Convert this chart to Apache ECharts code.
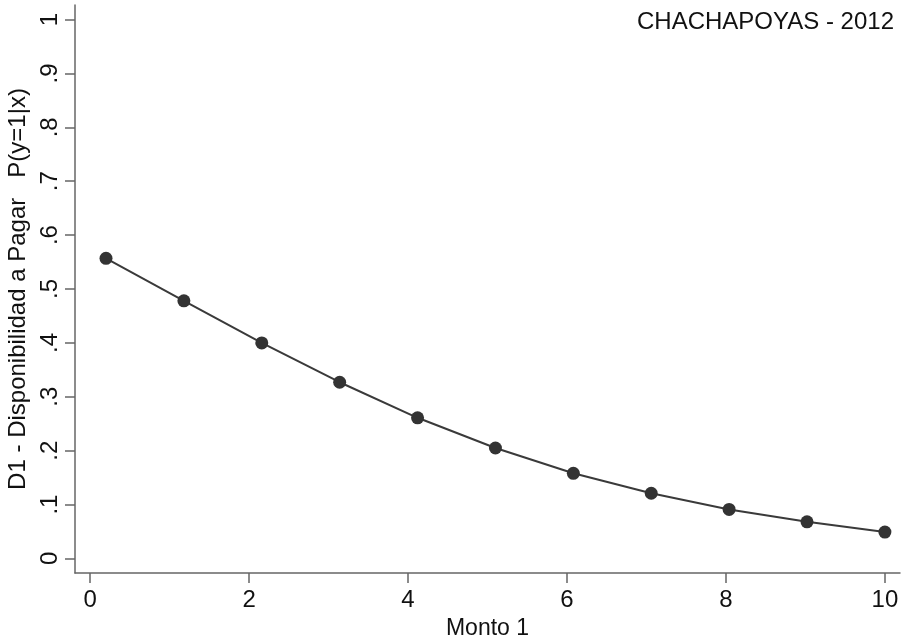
<!DOCTYPE html>
<html>
<head>
<meta charset="utf-8">
<script src="https://cdn.jsdelivr.net/npm/echarts@6/dist/echarts.min.js"></script>
<style>
  html, body { margin: 0; padding: 0; background: #fff; }
  #chart { width: 906px; height: 640px; }
</style>
</head>
<body>
<div id="chart"></div>
<script>
// Monto 1 (x) y P(y=1|x)
const monto = [0.2, 1.18, 2.16, 3.14, 4.12, 5.1, 6.08, 7.06, 8.04, 9.02, 10];
const prob = [0.557, 0.478, 0.4, 0.327, 0.261, 0.205, 0.158, 0.121, 0.091, 0.068, 0.049];
const xTicks = [0, 2, 4, 6, 8, 10];
const yTicks = [0, 0.1, 0.2, 0.3, 0.4, 0.5, 0.6, 0.7, 0.8, 0.9, 1];
const titleText = "CHACHAPOYAS - 2012";

const font = "Liberation Sans, Arial, sans-serif";
const axisColor = "#666";

const chart = echarts.init(document.getElementById("chart"));
chart.setOption({
  backgroundColor: "#fff",
  animation: false,
  title: {
    text: titleText,
    right: 7,
    top: 5,
    textStyle: { fontFamily: font, fontSize: 24, fontWeight: "normal", color: "#111" },
  },
  grid: { left: 75, right: 6, top: 5, bottom: 67, outerBoundsMode: "none" },
  xAxis: {
    type: "value",
    min: -0.19,
    max: 10.19,
    interval: 2,
    name: "Monto 1",
    nameLocation: "middle",
    nameGap: 38,
    nameTextStyle: { fontFamily: font, fontSize: 23, color: "#111" },
    axisLine: { show: true, onZero: false, lineStyle: { color: axisColor, width: 1.5 } },
    axisTick: { show: true, length: 10, lineStyle: { color: axisColor, width: 1.5 }, customValues: xTicks },
    axisLabel: { fontFamily: font, fontSize: 24, color: "#111", margin: 15, customValues: xTicks },
    splitLine: { show: false },
  },
  yAxis: {
    type: "value",
    min: -0.027,
    max: 1.027,
    name: "D1 - Disponibilidad a Pagar   P(y=1|x)",
    nameLocation: "middle",
    nameGap: 42,
    nameTextStyle: { fontFamily: font, fontSize: 24, color: "#111" },
    axisLine: { show: true, onZero: false, lineStyle: { color: axisColor, width: 1.5 } },
    axisTick: { show: true, length: 10, lineStyle: { color: axisColor, width: 1.5 }, customValues: yTicks },
    axisLabel: {
      fontFamily: font, fontSize: 24, color: "#111", margin: 13, rotate: 90,
      customValues: yTicks,
      formatter: (v) => (v === 0 ? "0" : v >= 1 ? "1" : String(+v.toFixed(1)).replace(/^0/, "")),
    },
    splitLine: { show: false },
  },
  series: [
    {
      type: "line",
      data: monto.map((x, i) => [x, prob[i]]),
      symbol: "circle",
      symbolSize: 13,
      itemStyle: { color: "#333" },
      lineStyle: { color: "#3a3a3a", width: 2 },
    },
  ],
});
</script>
</body>
</html>
